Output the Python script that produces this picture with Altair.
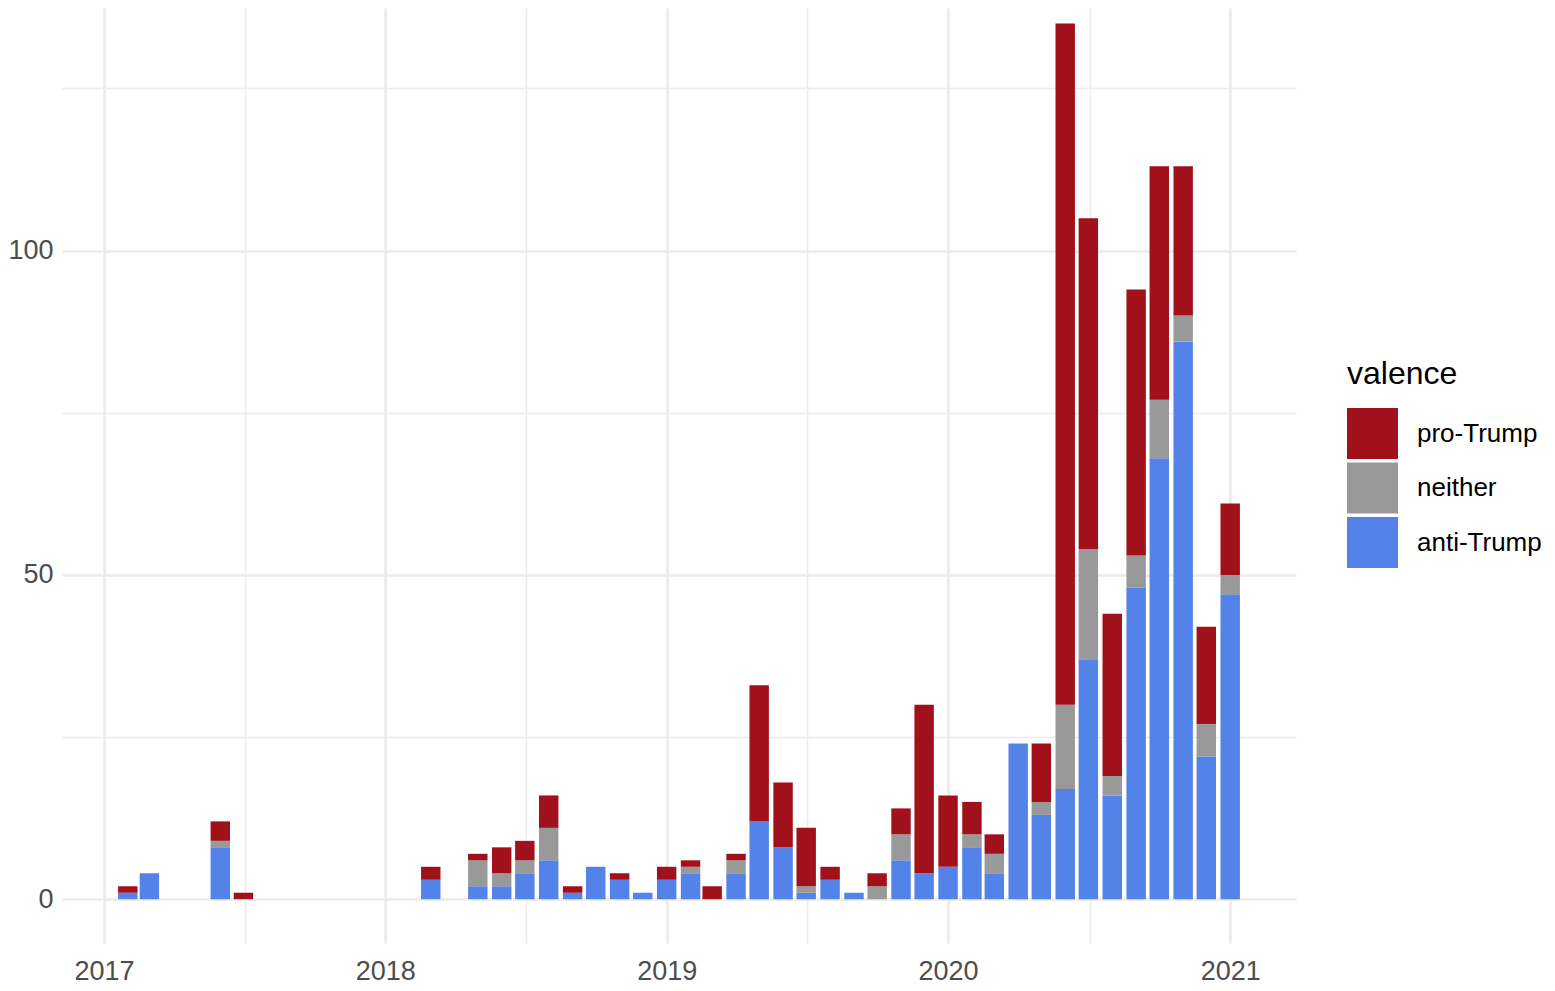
import altair as alt
import pandas as pd

# ---- data (monthly counts) ----
months = [
    "2017-02-01", "2017-03-01", "2017-06-01", "2017-07-01",
    "2018-03-01", "2018-05-01", "2018-06-01", "2018-07-01", "2018-08-01",
    "2018-09-01", "2018-10-01", "2018-11-01", "2018-12-01",
    "2019-01-01", "2019-02-01", "2019-03-01", "2019-04-01", "2019-05-01",
    "2019-06-01", "2019-07-01", "2019-08-01", "2019-09-01", "2019-10-01",
    "2019-11-01", "2019-12-01",
    "2020-01-01", "2020-02-01", "2020-03-01", "2020-04-01", "2020-05-01",
    "2020-06-01", "2020-07-01", "2020-08-01", "2020-09-01", "2020-10-01",
    "2020-11-01", "2020-12-01", "2021-01-01",
]
anti_trump = [1, 4, 8, 0,
              3, 2, 2, 4, 6, 1, 5, 3, 1,
              3, 4, 0, 4, 12, 8, 1, 3, 1, 0, 6, 4,
              5, 8, 4, 24, 13, 17, 37, 16, 48, 68, 86, 22, 47]
neither = [0, 0, 1, 0,
           0, 4, 2, 2, 5, 0, 0, 0, 0,
           0, 1, 0, 2, 0, 0, 1, 0, 0, 2, 4, 0,
           0, 2, 3, 0, 2, 13, 17, 3, 5, 9, 4, 5, 3]
pro_trump = [1, 0, 3, 1,
             2, 1, 4, 3, 5, 1, 0, 1, 0,
             2, 1, 2, 1, 21, 10, 9, 2, 0, 2, 4, 26,
             11, 5, 3, 0, 9, 105, 51, 25, 41, 36, 23, 15, 11]

valence_levels = ["pro-Trump", "neither", "anti-Trump"]
valence_colors = ["#A1111B", "#999999", "#5382E8"]

rows = []
for m, a, n, p in zip(months, anti_trump, neither, pro_trump):
    for name, cnt, order in (("anti-Trump", a, 0), ("neither", n, 1), ("pro-Trump", p, 2)):
        if cnt > 0:
            rows.append({"month": m, "valence": name, "count": cnt, "ord": order})
df = pd.DataFrame(rows)

# ggplot-like bar width: 0.9 * smallest gap between months (28 days)
HALF_DAYS = 0.9 * 28 / 2
DAY_MS = 86400000

dts = pd.to_datetime(months)
lo = dts.min() - pd.Timedelta(days=HALF_DAYS)
hi = dts.max() + pd.Timedelta(days=HALF_DAYS)
pad = (hi - lo) * 0.05
x_dom = [int((lo - pad).value // 10**6), int((hi + pad).value // 10**6)]

totals = [a + n + p for a, n, p in zip(anti_trump, neither, pro_trump)]
ymax = max(totals)
y_dom = [-0.05 * ymax, 137.4]

x_vals = []
for yr in range(2017, 2022):
    x_vals.append(alt.DateTime(year=yr, month=1, date=1, utc=True))
    if yr < 2021:
        x_vals.append(alt.DateTime(year=yr, month=7, date=2, hours=12, utc=True))

FONT = "Liberation Sans"

chart = (
    alt.Chart(df)
    .transform_calculate(
        x0=f"toDate(datum.month) - {HALF_DAYS}*{DAY_MS}",
        x1=f"toDate(datum.month) + {HALF_DAYS}*{DAY_MS}",
    )
    .transform_stack(
        stack="count",
        groupby=["month"],
        sort=[alt.SortField(field="ord", order="ascending")],
        as_=["y0", "y1"],
    )
    .mark_bar()
    .encode(
        x=alt.X(
            "x0:T",
            scale=alt.Scale(type="utc", domain=x_dom),
            axis=alt.Axis(
                title=None,
                values=x_vals,
                labelExpr="utcmonth(datum.value) == 0 ? utcFormat(datum.value, '%Y') : ''",
                grid=True,
                gridColor="#EBEBEB",
                gridWidth={"condition": {"test": "utcmonth(datum.value) == 0", "value": 2.6}, "value": 1.4},
                domain=False,
                ticks=False,
                tickSize=0,
                labelPadding=15,
                labelFont=FONT,
                labelFontSize=27,
                labelColor="#4D4D4D",
                labelFlush=False,
                labelOverlap=False,
            ),
        ),
        x2="x1:T",
        y=alt.Y(
            "y0:Q",
            scale=alt.Scale(domain=y_dom, nice=False, zero=False),
            axis=alt.Axis(
                title=None,
                values=[0, 25, 50, 75, 100, 125],
                labelExpr="datum.value % 50 == 0 ? datum.label : ''",
                grid=True,
                gridColor="#EBEBEB",
                gridWidth={"condition": {"test": "datum.value % 50 == 0", "value": 2.6}, "value": 1.4},
                domain=False,
                ticks=False,
                tickSize=0,
                labelPadding=9,
                labelFont=FONT,
                labelFontSize=27,
                labelColor="#4D4D4D",
                labelFlush=False,
                labelOverlap=False,
            ),
        ),
        y2="y1:Q",
        color=alt.Color(
            "valence:N",
            scale=alt.Scale(domain=valence_levels, range=valence_colors),
            legend=alt.Legend(
                title="valence",
                orient="none",
                legendX=1285,
                legendY=351,
                padding=0,
                titleFont=FONT,
                titleFontSize=32,
                titleFontWeight="normal",
                titleColor="#000000",
                titlePadding=17,
                labelFont=FONT,
                labelFontSize=26,
                labelColor="#000000",
                labelOffset=19,
                symbolType="square",
                symbolSize=2601,
                symbolStrokeWidth=0,
                symbolOpacity=1,
                rowPadding=3.5,
            ),
        ),
        order=alt.Order("ord:Q"),
    )
    .properties(
        width=1234,
        height=935,
        autosize=alt.AutoSizeParams(type="none"),
        padding={"left": 54, "top": 0, "right": 250, "bottom": 46},
        background="white",
    )
    .configure_view(stroke="transparent", strokeWidth=0)
)

chart.save("out.html", embed_options={"renderer": "svg", "actions": False})
